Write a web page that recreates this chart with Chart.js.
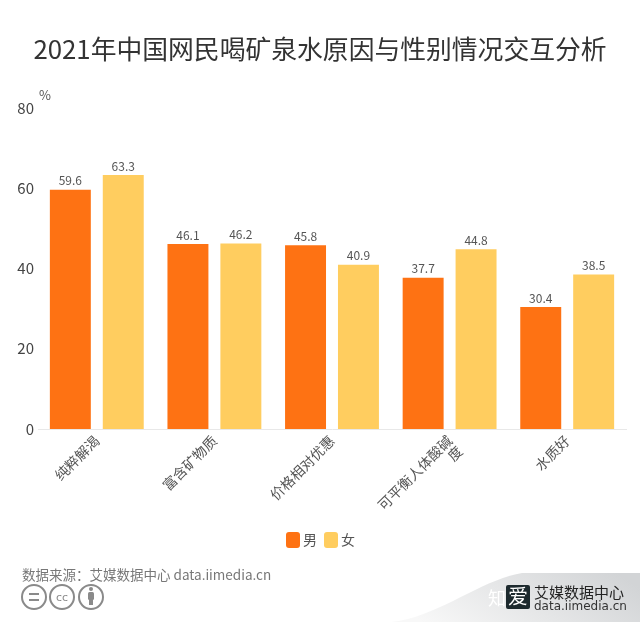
<!DOCTYPE html>
<html>
<head>
<meta charset="utf-8">
<script src="https://cdn.jsdelivr.net/npm/chart.js@4"></script>
<style>
  html, body { margin: 0; padding: 0; background: #fff; }
  #wrap { position: relative; width: 640px; height: 622px; overflow: hidden; font-family: "Noto Sans CJK SC", sans-serif; }
  #wrap div, #wrap svg { position: absolute; }
  #unit { left: 39px; top: 85px; font-size: 13px; color: #555; }
  #source { left: 22px; top: 564px; font-size: 13.5px; color: #777; white-space: nowrap; }
  #wm { left: 0; top: 0; }
  #legend { left: 0; top: 530px; width: 640px; height: 20px; font-size: 14px; color: #555; }
  #legend span { position: absolute; top: 2px; width: 14px; height: 16px; border-radius: 3px; }
  #legend b { position: absolute; top: -1px; font-weight: normal; }
</style>
</head>
<body>
<div id="wrap">
  <canvas id="Chart" width="640" height="622"></canvas>
  <div id="unit">%</div>
  <div id="legend"></div>
  <div id="source">数据来源：艾媒数据中心 data.iimedia.cn</div>
  <svg id="wm" width="640" height="622">
    <defs>
      <linearGradient id="g" x1="0" y1="0.6" x2="1" y2="0.3">
        <stop offset="0" stop-color="#f8f8f8"/>
        <stop offset="1" stop-color="#d2d4d6"/>
      </linearGradient>
    </defs>
    <path d="M392 622 C440 616 480 580 522 573 L640 573 L640 622 Z" fill="url(#g)"/>
    <g fill="none" stroke="#8a8a8a" stroke-width="2">
      <circle cx="34" cy="597" r="12"/>
      <circle cx="62" cy="597" r="12"/>
      <circle cx="91" cy="597" r="12"/>
    </g>
    <g stroke="#8a8a8a" stroke-width="2">
      <line x1="29" y1="594" x2="39" y2="594"/>
      <line x1="29" y1="600" x2="39" y2="600"/>
    </g>
    <text x="62" y="601" font-size="11" fill="#8a8a8a" text-anchor="middle" font-family="DejaVu Sans">cc</text>
    <g fill="#8a8a8a">
      <circle cx="91" cy="589" r="2"/>
      <rect x="88" y="592" width="6" height="8" rx="1.5"/>
      <rect x="89" y="599" width="4" height="6"/>
    </g>
    <text x="488" y="605" font-size="18" fill="#fff" font-family="Noto Sans CJK SC">知</text>
    <rect x="506" y="585" width="24" height="24" rx="2" fill="#1d2a2e"/>
    <text x="518" y="604" font-size="20" fill="#fff" text-anchor="middle" font-family="Noto Sans CJK SC">爱</text>
    <text x="534" y="598" font-size="15" fill="#222" font-family="Noto Sans CJK SC">艾媒数据中心</text>
    <text x="534" y="610" font-size="12" fill="#333" font-family="DejaVu Sans">data.iimedia.cn</text>
  </svg>
</div>
<script>
const categories = ["纯粹解渴", "富含矿物质", "价格相对优惠", ["可平衡人体酸碱", "度"], "水质好"];
const maleValues = [59.6, 46.1, 45.8, 37.7, 30.4];
const femaleValues = [63.3, 46.2, 40.9, 44.8, 38.5];
const seriesNames = ["男", "女"];
const seriesColors = ["#fe7213", "#ffcd5f"];
const yTicks = [0, 20, 40, 60, 80];
const titleText = "2021年中国网民喝矿泉水原因与性别情况交互分析";

const cjk = '"Noto Sans CJK SC", sans-serif';

// value labels above the bars
const barLabels = {
  id: "barLabels",
  afterDatasetsDraw(chart) {
    const ctx = chart.ctx;
    ctx.save();
    ctx.font = "12px " + cjk;
    ctx.fillStyle = "#555";
    ctx.textAlign = "center";
    ctx.textBaseline = "bottom";
    chart.data.datasets.forEach((ds, i) => {
      chart.getDatasetMeta(i).data.forEach((bar, j) => {
        ctx.fillText(ds.data[j].toFixed(1), bar.x, bar.y - 3);
      });
    });
    ctx.restore();
  },
};

// legend is tighter than the built in one, so build it by hand
const legendSlots = [286, 324];
seriesNames.forEach((name, i) => {
  const legend = document.getElementById("legend");
  legend.insertAdjacentHTML("beforeend",
    '<span style="left:' + legendSlots[i] + 'px;background:' + seriesColors[i] + '"></span>' +
    '<b style="left:' + (legendSlots[i] + 17) + 'px">' + name + "</b>");
});

new Chart(document.getElementById("Chart").getContext("2d"), {
  type: "bar",
  plugins: [barLabels],
  data: {
    labels: categories,
    datasets: [
      { label: seriesNames[0], data: maleValues, backgroundColor: seriesColors[0] },
      { label: seriesNames[1], data: femaleValues, backgroundColor: seriesColors[1] },
    ],
  },
  options: {
    responsive: false,
    animation: false,
    layout: { padding: { top: 34, bottom: 103, left: 0, right: 0 } },
    categoryPercentage: 0.9,
    barPercentage: 0.774,
    plugins: {
      title: {
        display: true,
        text: titleText,
        color: "#333",
        font: { family: cjk, size: 25.8, weight: "normal" },
        padding: { top: 0, bottom: 43 },
      },
      legend: { display: false },
      tooltip: { enabled: false },
    },
    scales: {
      x: {
        grid: { display: false, drawTicks: false },
        border: { color: "#e8e8e8", width: 1 },
        ticks: {
          color: "#555",
          font: { family: cjk, size: 14, lineHeight: 1.05 },
          minRotation: 45,
          maxRotation: 45,
          padding: 4,
        },
        afterFit(scale) { scale.height = 90; },
      },
      y: {
        min: 0,
        max: 80,
        afterBuildTicks(scale) { scale.ticks = yTicks.map((v) => ({ value: v })); },
        grid: { display: false, drawTicks: false },
        border: { display: false },
        ticks: { color: "#444", font: { family: cjk, size: 15 }, padding: 4 },
        afterFit(scale) { scale.width = 38; },
      },
      // empty axis only to keep the plot off the right edge while the title stays centred
      yRight: {
        position: "right",
        min: 0,
        max: 80,
        grid: { display: false, drawTicks: false },
        border: { display: false },
        ticks: { display: false },
        afterFit(scale) { scale.width = 14; },
      },
    },
  },
});
</script>
</body>
</html>
